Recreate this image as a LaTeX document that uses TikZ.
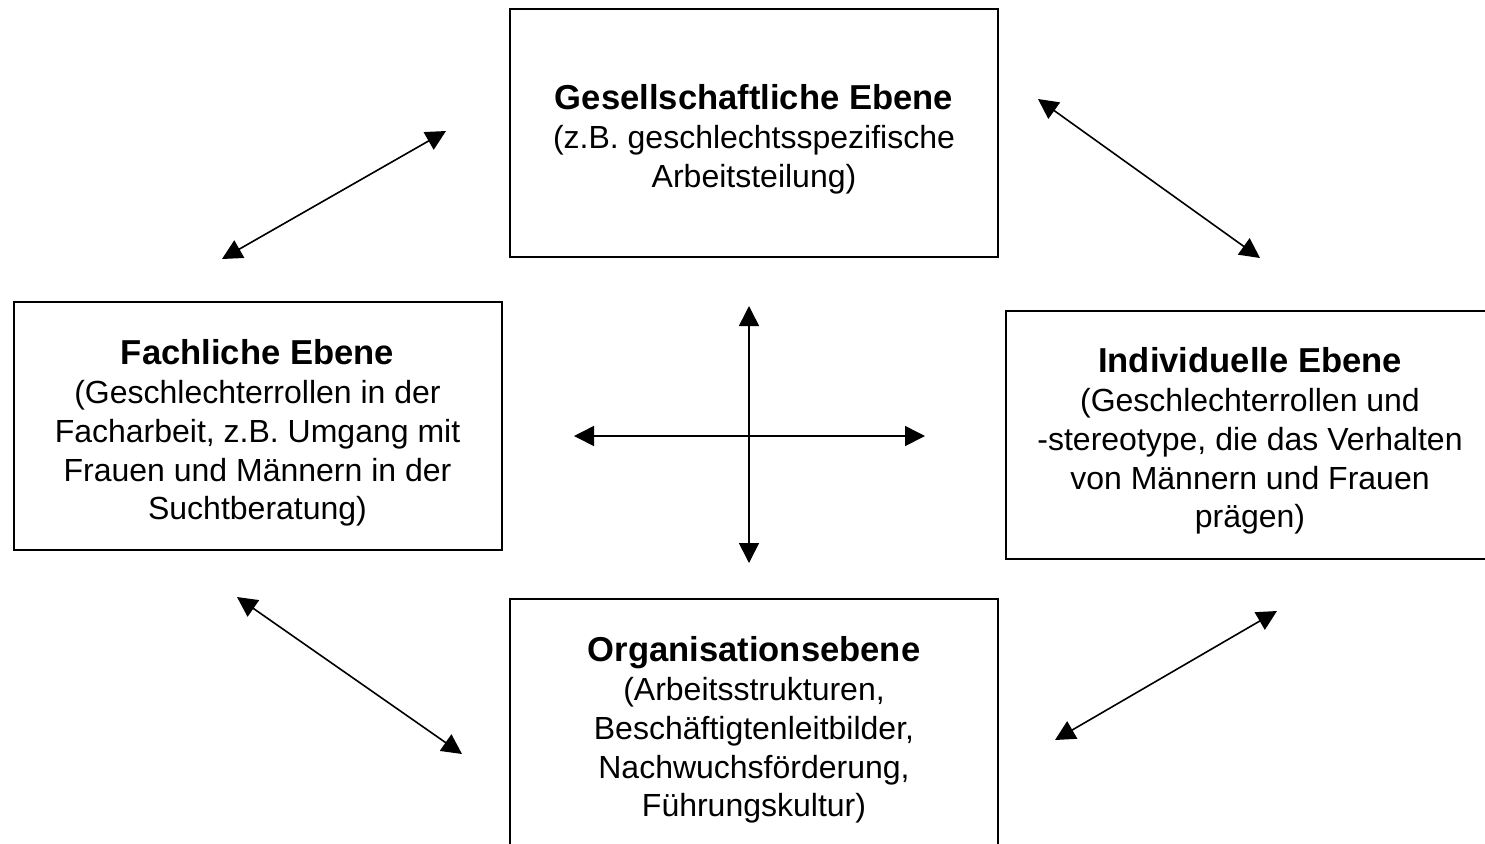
\documentclass[tikz,border=0pt]{standalone}
\usepackage{fontspec}
\setmainfont{Liberation Sans}
\usetikzlibrary{arrows.meta}
\newcommand{\ttl}[1]{{\fontsize{17.3}{19.6}\selectfont\bfseries #1}}
\begin{document}
\begin{tikzpicture}[x=0.5pt,y=-0.5pt,
  box/.style={draw, line width=1pt, minimum width=244pt, minimum height=124pt, inner sep=0pt},
  txt/.style={align=center, inner sep=0pt, font=\fontsize{16}{19.4}\selectfont},
  link/.style={line width=0.8pt, {Triangle[length=10pt,width=10pt]}-{Triangle[length=10pt,width=10pt]}}]
\useasboundingbox (0,0) rectangle (1485,843);
\node[box] (ges) at (754,133) {};
\node[box] (fach) at (257.5,426) {};
\node[box] (ind) at (1250,434.5) {};
\node[box] (org) at (754,723) {};
\node[txt] (gest) at (754,139) {\ttl{Gesellschaftliche Ebene}\\(z.B. geschlechtsspezifische\\Arbeitsteilung)};
\node[txt] (facht) at (257.5,433) {\ttl{Fachliche Ebene}\\(Geschlechterrollen in der\\Facharbeit, z.B. Umgang mit\\Frauen und Männern in der\\Suchtberatung)};
\node[txt] (indt) at (1250,441) {\ttl{Individuelle Ebene}\\(Geschlechterrollen und\\-stereotype, die das Verhalten\\von Männern und Frauen\\prägen)};
\node[txt] (orgt) at (754,730) {\ttl{Organisationsebene}\\(Arbeitsstrukturen,\\Beschäftigtenleitbilder,\\Nachwuchsförderung,\\Führungskultur)};
\coordinate (a1) at (222,259); \coordinate (a2) at (446,131);
\coordinate (b1) at (1038,99); \coordinate (b2) at (1260,258);
\coordinate (c1) at (237,597); \coordinate (c2) at (462,754);
\coordinate (d1) at (1055,740); \coordinate (d2) at (1277,611);
\coordinate (v1) at (749,306); \coordinate (v2) at (749,563);
\coordinate (h1) at (574,436); \coordinate (h2) at (925,436);
\draw[link] (a1) -- (a2);
\draw[link] (b1) -- (b2);
\draw[link] (c1) -- (c2);
\draw[link] (d1) -- (d2);
\draw[link] (v1) -- (v2);
\draw[link] (h1) -- (h2);
\end{tikzpicture}
\end{document}
